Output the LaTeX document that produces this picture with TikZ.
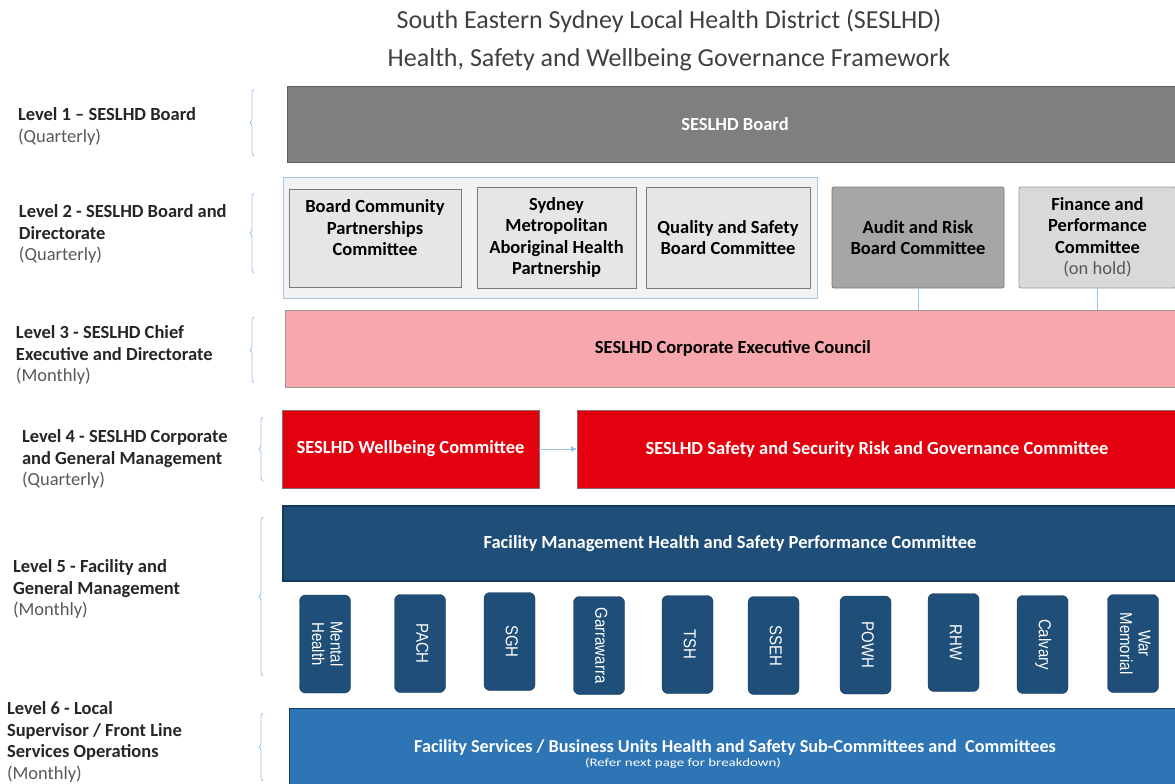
\documentclass[tikz,border=0pt]{standalone}
\usepackage{fontspec}
\setmainfont{Carlito}
\newfontfamily\arialfont{Liberation Sans}
\usetikzlibrary{arrows.meta,decorations.pathreplacing}

\definecolor{titlegray}{HTML}{404040}
\definecolor{labelink}{HTML}{262626}
\definecolor{notegray}{HTML}{595959}
\definecolor{boardgray}{HTML}{7F7F7F}
\definecolor{boardedge}{HTML}{5F5F5F}
\definecolor{grpfill}{HTML}{F2F2F2}
\definecolor{grpedge}{HTML}{A9C6E3}
\definecolor{cmtfill}{HTML}{E6E6E6}
\definecolor{cmtedge}{HTML}{7A7A7A}
\definecolor{auditfill}{HTML}{A6A6A6}
\definecolor{finfill}{HTML}{D9D9D9}
\definecolor{execpink}{HTML}{F7A7AD}
\definecolor{execedge}{HTML}{9A9A9A}
\definecolor{alertred}{HTML}{E3000F}
\definecolor{rededge}{HTML}{8C6A6A}
\definecolor{navy}{HTML}{1F4E79}
\definecolor{navyedge}{HTML}{163A5C}
\definecolor{midblue}{HTML}{2E75B6}
\definecolor{linkblue}{HTML}{9DC3E6}

\newcommand\bxfont{\bfseries\fontsize{18.5}{21.5}\selectfont}
\newcommand\facfont{\arialfont\fontsize{15}{16}\selectfont}
% facility names are set slightly tall
\newcommand\tallname[1]{\scalebox{1}[1.15]{\begin{tabular}{@{}c@{}}#1\end{tabular}}}

\begin{document}
\begin{tikzpicture}[x=1pt,y=-1pt,
  every node/.style={inner sep=0pt, outer sep=0pt},
  panel/.style={draw, line width=0.8pt, align=center, font=\bxfont},
  inlabel/.style={align=center, font=\bxfont, text=black},
  levellabel/.style={anchor=north west, align=left, font=\bxfont, text=labelink},
  brace/.style={draw=linkblue, line width=0.8pt, decorate,
    decoration={brace, amplitude=4pt}},
  link/.style={draw=linkblue, line width=0.9pt},
  fac/.style={rotate=-90, draw=navyedge, fill=navy, rounded corners=6pt,
    minimum width=98, minimum height=51, text=white, font=\facfont, align=center}]

\useasboundingbox (0,0) rectangle (1175,784);
\fill[white] (0,0) rectangle (1175,784);

% heading
\node[align=center, text=titlegray, font=\fontsize{26}{38}\selectfont] (title) at (669,40)
  {South Eastern Sydney Local Health District (SESLHD)\\Health, Safety and Wellbeing Governance Framework};

% level descriptions on the left
\node[levellabel] (lv1) at (18,108)
  {Level 1 -- SESLHD Board\\{\mdseries\color{notegray}(Quarterly)}};
\node[levellabel] (lv2) at (19,205)
  {Level 2 - SESLHD Board and\\Directorate\\{\mdseries\color{notegray}(Quarterly)}};
\node[levellabel] (lv3) at (16,326)
  {Level 3 - SESLHD Chief\\Executive and Directorate\\{\mdseries\color{notegray}(Monthly)}};
\node[levellabel] (lv4) at (22,430)
  {Level 4 - SESLHD Corporate\\and General Management\\{\mdseries\color{notegray}(Quarterly)}};
\node[levellabel] (lv5) at (13,560)
  {Level 5 - Facility and\\General Management\\{\mdseries\color{notegray}(Monthly)}};
\node[levellabel] (lv6) at (7,702)
  {Level 6 - Local\\Supervisor / Front Line\\Services Operations\\{\mdseries\color{notegray}(Monthly)}};

% braces
\draw[brace] (254,156) -- (254,89);
\draw[brace] (254,273) -- (254,193);
\draw[brace] (254,383) -- (254,317);
\draw[brace] (263,481) -- (263,417);
\draw[brace] (263,676) -- (263,517);
\draw[brace] (263,781) -- (263,713);

% level 1
\node[panel, fill=boardgray, draw=boardedge, text=white,
  minimum width=896, minimum height=76] (board) at (735,124) {SESLHD Board};

% level 2
\node[draw=grpedge, fill=grpfill, line width=1pt,
  minimum width=534, minimum height=121] (grp) at (550,237.5) {};
\node[panel, fill=cmtfill, draw=cmtedge, minimum width=172, minimum height=98] (bcp) at (375,238) {};
\node[inlabel] (bcptext) at (375,228) {Board Community\\Partnerships\\Committee};
\node[panel, fill=cmtfill, draw=cmtedge, minimum width=159, minimum height=101] (smahp) at (556.5,237.5)
  {Sydney\\Metropolitan\\Aboriginal Health\\Partnership};
\node[panel, fill=cmtfill, draw=cmtedge, minimum width=164, minimum height=101] (qsb) at (728,237.5)
  {Quality and Safety\\Board Committee};
\node[panel, fill=auditfill, draw=cmtedge, rounded corners=2pt,
  minimum width=172, minimum height=101] (audit) at (918,237.5)
  {Audit and Risk\\Board Committee};
\node[panel, fill=finfill, draw=execedge, rounded corners=2pt,
  minimum width=157, minimum height=101] (fin) at (1097.5,237.5)
  {Finance and\\Performance\\Committee\\{\mdseries\color{notegray}(on hold)}};

% level 3
\node[panel, fill=execpink, draw=execedge, minimum width=896, minimum height=77] (exec) at (733,348.5)
  {SESLHD Corporate Executive Council};
\draw[link] (audit.south) -- (audit.south |- exec.north);
\draw[link] (fin.south) -- (fin.south |- exec.north);

% level 4
\node[panel, fill=alertred, draw=rededge, text=white, minimum width=257, minimum height=78] (wb) at (410.5,449)
  {SESLHD Wellbeing Committee};
\node[panel, fill=alertred, draw=rededge, text=white, minimum width=600, minimum height=78] (ssr) at (877,449)
  {SESLHD Safety and Security Risk and Governance Committee};
\draw[link, -{Triangle[length=6pt, width=5pt]}] (wb.east) -- (ssr.west);

% level 5
\node[panel, fill=navy, draw=navyedge, line width=1.2pt, text=white, minimum width=894, minimum height=75] (fmc) at (730,543.5)
  {Facility Management Health and Safety Performance Committee};
\node[fac] (mh)   at (325,644)    {\tallname{Mental\\Health}};
\node[fac] (pach) at (420,643.5)  {\tallname{PACH}};
\node[fac] (sgh)  at (509.5,641.5){\tallname{SGH}};
\node[fac] (garr) at (599,645.5)  {\tallname{Garrawarra}};
\node[fac] (tsh)  at (687.5,644.5){\tallname{TSH}};
\node[fac] (sseh) at (773.5,645.5){\tallname{SSEH}};
\node[fac] (powh) at (865.5,645)  {\tallname{POWH}};
\node[fac] (rhw)  at (953.5,642.5){\tallname{RHW}};
\node[fac] (calv) at (1042.5,644.5){\tallname{Calvary}};
\node[fac] (warm) at (1133,643.5) {\tallname{War\\Memorial}};

% level 6
\node[panel, fill=midblue, draw=navyedge, text=white, minimum width=892, minimum height=80,
  font=\bfseries\fontsize{18.2}{20}\selectfont] (fsb) at (735,748)
  {Facility Services / Business Units Health and Safety Sub-Committees and\ \ Committees\strut};
\node[text=white, font=\fontsize{11.5}{12}\selectfont] (fsbnote) at (683,763)
  {\scalebox{1.3}[1]{(Refer next page for breakdown)}};

\end{tikzpicture}
\end{document}
